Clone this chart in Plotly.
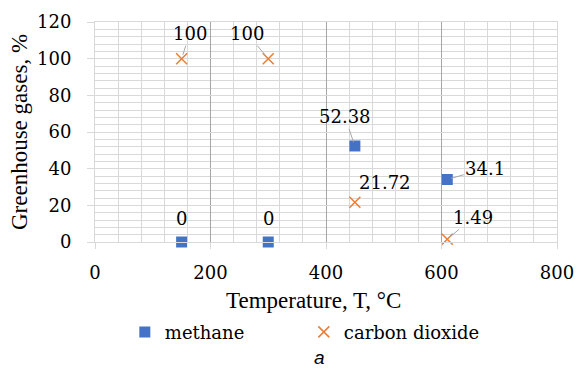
import plotly.graph_objects as go

# ---- data ----
temperature = [150, 300, 450, 610]
methane = [0, 0, 52.38, 34.1]
carbon_dioxide = [100, 100, 21.72, 1.49]
series_names = ["methane", "carbon dioxide"]
x_title = "Temperature, T, °C"
y_title = "Greenhouse gases, %"
caption = "a"

# ---- styles ----
BLUE = "#4472C4"
ORANGE = "#ED7D31"
TITLE_FONT = "Liberation Serif"
FONT = "DejaVu Serif"
LIGHT = "#d9d9d9"
MAJOR_X = "#a6a6a6"

# label offsets in pixels (dx, dy up-positive, leader line?)
methane_off = [(0, 24, False), (0, 24, False), (-10, 29, True), (38, 11, True)]
co2_off = [(8, 25, True), (-21, 25, True), (30, 20, False), (26, 22, True)]

fig = go.Figure()
fig.add_trace(go.Scatter(
    x=temperature, y=methane, mode="markers", name=series_names[0],
    marker=dict(symbol="square", size=11, color=BLUE), cliponaxis=False,
))
fig.add_trace(go.Scatter(
    x=temperature, y=carbon_dioxide, mode="markers", name=series_names[1],
    marker=dict(symbol="x-thin", size=11, color=ORANGE,
                line=dict(color=ORANGE, width=1.5)), cliponaxis=False,
))

def fmt(v):
    return f"{v:g}"

annotations = []
for xs, ys, offs in ((temperature, methane, methane_off),
                     (temperature, carbon_dioxide, co2_off)):
    for x, y, (dx, dy, lead) in zip(xs, ys, offs):
        if lead:
            annotations.append(dict(
                x=x, y=y, text=fmt(y), showarrow=True, ax=dx, ay=-dy,
                arrowhead=0, arrowwidth=1, arrowcolor="#a6a6a6", standoff=4,
                font=dict(family=FONT, size=18, color="#000"),
            ))
        else:
            annotations.append(dict(
                x=x, y=y, text=fmt(y), showarrow=False, xshift=dx, yshift=dy,
                font=dict(family=FONT, size=18, color="#000"),
            ))

# x-axis title centred on the chart area (as in the reference)
annotations.append(dict(
    x=0.472, y=-0.264, xref="paper", yref="paper", text=x_title,
    showarrow=False, font=dict(family=TITLE_FONT, size=23, color="#000"),
    xanchor="center", yanchor="middle",
))
annotations.append(dict(
    x=0.487, y=-0.527, xref="paper", yref="paper", text=f"<i>{caption}</i>",
    showarrow=False, font=dict(family="Liberation Sans", size=19, color="#000"),
    xanchor="center", yanchor="middle",
))

fig.update_layout(
    width=577, height=376,
    margin=dict(l=95, r=20, t=22, b=134, autoexpand=False),
    paper_bgcolor="white", plot_bgcolor="white",
    font=dict(family=FONT, size=18, color="#000"),
    showlegend=True,
    legend=dict(orientation="h", x=0.452, y=-0.41, xanchor="center",
                yanchor="middle",
                font=dict(family=FONT, size=18, color="#000"),
                entrywidth=134, itemwidth=30),
    annotations=annotations,
)
fig.update_xaxes(
    range=[0, 800], tickvals=[0, 200, 400, 600, 800], automargin=False,
    showgrid=True, gridcolor=MAJOR_X, gridwidth=1, zeroline=False,
    minor=dict(dtick=40, showgrid=True, gridcolor=LIGHT, gridwidth=1),
    showline=True, linecolor=LIGHT, mirror=True,
    ticks="outside", ticklen=6, tickcolor=LIGHT, ticklabelstandoff=8,
    tickfont=dict(family=FONT, size=18, color="#000"),
)
fig.update_yaxes(
    range=[0, 120], tickvals=[0, 20, 40, 60, 80, 100, 120], automargin=False,
    showgrid=True, gridcolor=LIGHT, gridwidth=1, zeroline=False,
    minor=dict(dtick=4, showgrid=True, gridcolor=LIGHT, gridwidth=1),
    showline=True, linecolor=LIGHT, mirror=True,
    ticks="outside", ticklen=7, tickcolor=LIGHT, ticklabelstandoff=12,
    title=dict(text=y_title, standoff=2,
               font=dict(family=TITLE_FONT, size=23, color="#000")),
    tickfont=dict(family=FONT, size=18, color="#000"),
)

fig.write_html("out.html", config={"displayModeBar": False},
               post_script="document.body.style.margin='0px';")
